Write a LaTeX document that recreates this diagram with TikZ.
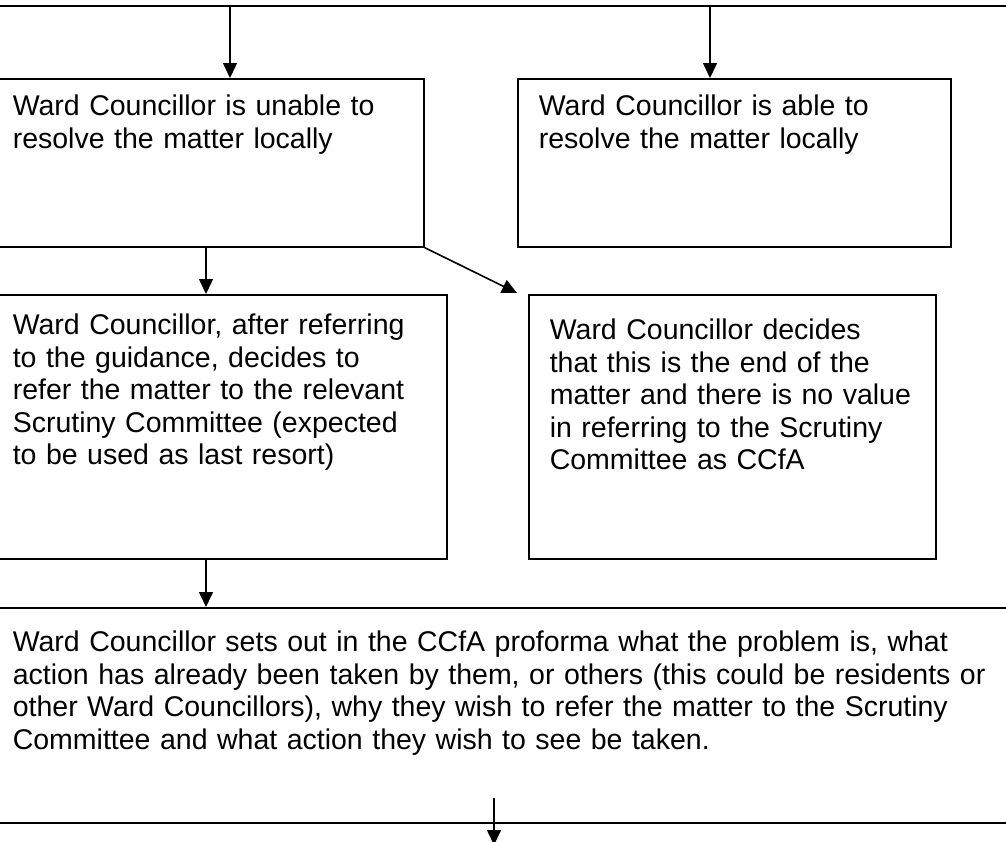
\documentclass[tikz,border=0pt]{standalone}
\usepackage{fontspec}
\setmainfont{Liberation Sans}
\usetikzlibrary{arrows.meta}

\begin{document}
\begin{tikzpicture}[x=1pt,y=-1pt,line width=1.6pt,
  >={Triangle[length=15pt,width=14pt]},
  stepbox/.style={draw, anchor=north west, align=left,
    inner xsep=21pt, inner ysep=17pt, text height=20pt,
    font=\fontsize{28.5}{32.4}\selectfont}]

  \useasboundingbox (0,0) rectangle (1006,841);
  \clip (0,0) rectangle (1006,841);

  % bottom edge of the box above
  \coordinate (topleft) at (-10,6);
  \coordinate (topright) at (1016,6);
  \draw (topleft) -- (topright);

  \node[stepbox, text width=390pt, text depth=114pt] (unable) at (-9,78)
    {Ward Councillor is unable to\\resolve the matter locally};
  \node[stepbox, text width=391pt, text depth=114pt] (able) at (517,78)
    {Ward Councillor is able to\\resolve the matter locally};

  \node[stepbox, text width=413pt, text height=23pt, text depth=207pt] (refer) at (-9,294)
    {Ward Councillor, after referring\\to the guidance, decides to\\refer the matter to the relevant\\Scrutiny Committee (expected\\to be used as last resort)};
  \node[stepbox, text width=365pt, text height=28pt, text depth=202pt] (noreferral) at (528,294)
    {Ward Councillor decides\\that this is the end of the\\matter and there is no value\\in referring to the Scrutiny\\Committee as CCfA};

  \node[stepbox, text width=1000pt, text height=27pt, text depth=154pt] (proforma) at (-9,607)
    {Ward Councillor sets out in the CCfA proforma what the problem is, what\\action has already been taken by them, or others (this could be residents or\\other Ward Councillors), why they wish to refer the matter to the Scrutiny\\Committee and what action they wish to see be taken.};

  % connectors
  \coordinate (fromtop1) at (230,6);
  \coordinate (fromtop2) at (710,6);
  \draw[->] (fromtop1) -- (fromtop1 |- unable.north);
  \draw[->] (fromtop2) -- (fromtop2 |- able.north);

  \coordinate (down1) at (206,246);
  \draw[->] (down1) -- (down1 |- refer.north);
  \coordinate (diagend) at (517,293);
  \draw[->] (unable.south east) -- (diagend);
  \coordinate (down2) at (206,558);
  \draw[->] (down2) -- (down2 |- proforma.north);

  \coordinate (next) at (494,798);
  \coordinate (nextend) at (494,845);
  \draw[->] (next) -- (nextend);

\end{tikzpicture}
\end{document}
